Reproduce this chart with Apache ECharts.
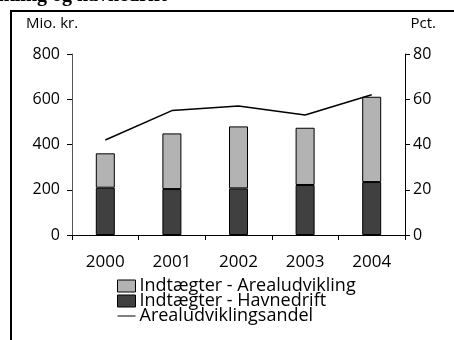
<!DOCTYPE html>
<html>
<head>
<meta charset="utf-8">
<script src="https://cdn.jsdelivr.net/npm/echarts@6/dist/echarts.min.js"></script>
<style>
  html, body { margin: 0; padding: 0; background: #fff; }
  #chart { width: 454px; height: 340px; }
</style>
</head>
<body>
<div id="chart"></div>
<script>
// Revenue split (mio. kr.) and land-development share (pct.)
const years = ['2000', '2001', '2002', '2003', '2004'];
const havnedrift = [209, 203, 206, 221, 234];
const arealudvikling = [152, 246, 274, 253, 377];
const andel = [42, 55, 57, 53, 62];
const leftTicks = [0, 200, 400, 600, 800];
const rightTicks = [0, 20, 40, 60, 80];

const FONT = 'Open Sans';
const chart = echarts.init(document.getElementById('chart'), null, { renderer: 'canvas' });

chart.setOption({
  animation: false,
  backgroundColor: '#fff',
  textStyle: { fontFamily: FONT, color: '#000' },
  grid: { left: 72, right: 49, top: 54, bottom: 105, containLabel: false },
  graphic: [
    { type: 'text', x: 167, y: 6,
      style: { text: 'Arealudvikling og havnedrift', fontFamily: 'Liberation Serif', fontWeight: 'bold', fontSize: 20, fill: '#000', align: 'right', verticalAlign: 'bottom' } },
    { type: 'rect', shape: { x: 10, y: 10, width: 444, height: 2 }, style: { fill: '#000' } },
    { type: 'rect', shape: { x: 10, y: 10, width: 2, height: 330 }, style: { fill: '#000' } },
    { type: 'text', x: 26, y: 16, style: { text: 'Mio. kr.', fontFamily: FONT, fontSize: 15, fill: '#000' } },
    { type: 'text', x: 436, y: 16, style: { text: 'Pct.', fontFamily: FONT, fontSize: 15, fill: '#000', align: 'right' } }
  ],
  legend: {
    orient: 'vertical',
    left: 117,
    top: 277,
    padding: 0,
    itemGap: -3,
    itemWidth: 18,
    itemHeight: 12,
    textStyle: { fontFamily: FONT, fontSize: 18, color: '#000', lineHeight: 14, padding: [0, 0, 0, -1] },
    data: [
      { name: 'Indtægter - Arealudvikling', icon: 'rect', itemStyle: { color: '#b3b3b3', borderColor: '#000', borderWidth: 1 } },
      { name: 'Indtægter - Havnedrift', icon: 'rect', itemStyle: { color: '#404040', borderColor: '#000', borderWidth: 1 } },
      { name: 'Arealudviklingsandel', icon: 'path://M0,5.5 L18,5.5 L18,6.5 L0,6.5 Z', itemStyle: { color: '#000' } }
    ]
  },
  xAxis: {
    type: 'category',
    data: years,
    boundaryGap: true,
    axisLine: { lineStyle: { color: '#000', width: 1 } },
    axisTick: { show: true, inside: false, length: 5, alignWithLabel: false, lineStyle: { color: '#000' } },
    axisLabel: { fontFamily: FONT, fontSize: 17, color: '#000', margin: 19 }
  },
  yAxis: [
    {
      type: 'value', min: leftTicks[0], max: leftTicks[leftTicks.length - 1], interval: 200,
      axisLine: { show: true, lineStyle: { color: '#555', width: 1 } },
      axisTick: { show: true, inside: false, length: 5, lineStyle: { color: '#000' } },
      splitLine: { show: false },
      axisLabel: { fontFamily: FONT, fontSize: 16, color: '#000', margin: 12 }
    },
    {
      type: 'value', min: rightTicks[0], max: rightTicks[rightTicks.length - 1], interval: 20,
      position: 'right',
      axisLine: { show: true, lineStyle: { color: '#000', width: 1 } },
      axisTick: { show: true, inside: false, length: 5, lineStyle: { color: '#000' } },
      splitLine: { show: false },
      axisLabel: { fontFamily: FONT, fontSize: 16, color: '#000', margin: 8 }
    }
  ],
  series: [
    {
      name: 'Indtægter - Havnedrift', type: 'bar', stack: 'total', data: havnedrift,
      barWidth: 19,
      itemStyle: { color: '#404040', borderColor: '#000', borderWidth: 1 }
    },
    {
      name: 'Indtægter - Arealudvikling', type: 'bar', stack: 'total', data: arealudvikling,
      barWidth: 19,
      itemStyle: { color: '#b3b3b3', borderColor: '#000', borderWidth: 1 }
    },
    {
      name: 'Arealudviklingsandel', type: 'line', yAxisIndex: 1, data: andel,
      symbol: 'none', lineStyle: { color: '#000', width: 1.5 }
    }
  ]
});
</script>
</body>
</html>
